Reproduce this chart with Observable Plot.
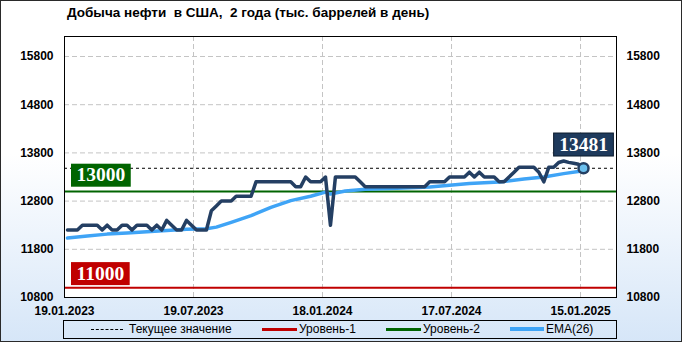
<!DOCTYPE html>
<html><head><meta charset="utf-8">
<script src="https://cdn.jsdelivr.net/npm/d3@7"></script>
<script src="https://cdn.jsdelivr.net/npm/@observablehq/plot@0.6"></script>
<style>
html,body{margin:0;padding:0;background:#fff;}
#wrap{position:relative;width:682px;height:342px;overflow:hidden;
  background:linear-gradient(to bottom,#ffffff 0%,#ffffff 45%,#d6e6f8 100%);
  font-family:"Liberation Sans",Arial,sans-serif;}
#wrap svg{position:absolute;left:0;top:0;}
#border{position:absolute;left:0;top:0;width:682px;height:342px;box-sizing:border-box;border:1px solid #2a2a2a;pointer-events:none;}
#title{position:absolute;left:67px;top:5px;font-weight:bold;font-size:13.5px;color:#000;white-space:pre;}
#legend{position:absolute;left:63px;top:320px;width:554px;height:19px;box-sizing:border-box;border:1px solid #000;}
.ls{position:absolute;top:8px;height:0;}
.lt{position:absolute;top:1px;font-size:12px;color:#000;white-space:pre;line-height:15px;}
</style></head>
<body><div id="wrap"><div id="title"></div><div id="legend"></div><div id="border"></div></div>
<script>
// ---- data ----
const title = "Добыча нефти  в США,  2 года (тыс. баррелей в день)";
const values = [
 12200,12200,12200,12300,12300,12300,12300,12200,12300,12200,
 12200,12300,12300,12200,12300,12300,12300,12200,12300,12200,
 12400,12300,12200,12200,12400,12300,12200,12200,12200,12600,
 12700,12800,12800,12800,12900,12900,12900,12900,13200,13200,
 13200,13200,13200,13200,13200,13200,13100,13100,13300,13200,
 13200,13200,13300,12300,13300,13300,13300,13300,13300,13200,
 13100,13100,13100,13100,13100,13100,13100,13100,13100,13100,
 13100,13100,13100,13200,13200,13200,13200,13300,13300,13300,
 13300,13400,13300,13400,13300,13300,13300,13200,13200,13300,
 13400,13500,13500,13500,13500,13400,13200,13500,13500,13600,
 13631,13604,13585,13563,13481];
const emaWeek = [0,4,8,12,16,20,24,28,30,33,37,41,45,49,52,53,56,60,65,73,77,81,87,92,96,100,104];
const emaVals = [12035,12075,12115,12140,12165,12190,12215,12225,12260,12360,12500,12670,12810,12900,12985,12945,13010,13045,13060,13095,13130,13165,13195,13260,13300,13370,13430];
const tickWeeks = [0,26,52,78,104];
const tickLabels = ["19.01.2023","19.07.2023","18.01.2024","17.07.2024","15.01.2025"];
const yTicks = [10800,11800,12800,13800,14800,15800];
const level1 = 11000, level2 = 13000;
const current = values[values.length-1];
const legendNames = ["Текущее значение","Уровень-1","Уровень-2","EMA(26)"];

// ---- colours / layout ----
const C = {main:"#243f63", ema:"#3fa4f6", l1:"#c00000", l2:"#006400", cur:"#000", grid:"#c4c4c4", dot:"#6cc0ee", box:"#1e3a5c"};
const OFF = 0.6;
const mainData = values.map((v,i)=>({x:i+OFF,y:v}));
const emaData = emaWeek.map((w,j)=>({x:w+OFF,y:emaVals[j]}));
const last = mainData[mainData.length-1];

document.getElementById("title").textContent = title;

const serif = "Liberation Serif, Times New Roman, serif";
const chart = Plot.plot({
  width:682, height:342,
  marginLeft:64, marginRight:66, marginTop:36, marginBottom:45,
  x:{domain:[0,111.25]},
  y:{domain:[10800,16215]},
  style:{background:"transparent", fontFamily:"Liberation Sans, Arial, sans-serif", overflow:"visible"},
  marks:[
    Plot.frame({fill:"white", stroke:null}),
    Plot.gridY(yTicks.slice(1),{stroke:C.grid, strokeOpacity:1, strokeDasharray:"5,3"}),
    Plot.gridX(tickWeeks.slice(1),{stroke:C.grid, strokeOpacity:1, strokeDasharray:"5,3"}),
    Plot.axisY(yTicks,{anchor:"left", tickSize:0, tickPadding:11, fontWeight:"bold", fontSize:12, fill:"#000", label:null, tickFormat:d=>String(d)}),
    Plot.axisY(yTicks,{anchor:"right", tickSize:0, tickPadding:10, fontWeight:"bold", fontSize:12, fill:"#000", label:null, tickFormat:d=>String(d)}),
    Plot.axisX(tickWeeks,{anchor:"bottom", tickSize:0, tickPadding:9, fontWeight:"bold", fontSize:12, fill:"#000", label:null,
      tickFormat:d=>tickLabels[tickWeeks.indexOf(d)]}),
    Plot.ruleY([level1],{stroke:C.l1, strokeWidth:2}),
    Plot.ruleY([level2],{stroke:C.l2, strokeWidth:2}),
    Plot.ruleY([current],{stroke:C.cur, strokeWidth:1, strokeDasharray:"3,3"}),
    Plot.line(emaData,{x:"x", y:"y", stroke:C.ema, strokeWidth:3.5}),
    Plot.line(mainData,{x:"x", y:"y", stroke:C.main, strokeWidth:3.5, strokeLinejoin:"round"}),
    Plot.dot([last],{x:"x", y:"y", r:5, fill:C.dot, stroke:C.main, strokeWidth:2.5}),
    Plot.frame({stroke:"#000", strokeWidth:1}),
    Plot.text([level2],{y:d=>d, frameAnchor:"left", dx:12, dy:-16.5, text:d=>String(d), textAnchor:"start",
      fill:"white", fontWeight:"bold", fontSize:19.5, fontFamily:serif}),
    Plot.text([level1],{y:d=>d, frameAnchor:"left", dx:12, dy:-14.5, text:d=>String(d), textAnchor:"start",
      fill:"white", fontWeight:"bold", fontSize:19.5, fontFamily:serif}),
    Plot.text([last],{x:"x", y:"y", dy:-24, text:d=>String(d.y), textAnchor:"middle",
      fill:"white", fontWeight:"bold", fontSize:19.5, fontFamily:serif})
  ]
});
const wrap = document.getElementById("wrap");
wrap.insertBefore(chart, document.getElementById("title"));

// label boxes behind the value labels
const boxFill = {[String(level2)]:C.l2, [String(level1)]:C.l1, [String(current)]:C.box};
d3.select(chart).selectAll("text").filter(function(){
  return this.parentNode.getAttribute("aria-label") === "text" && boxFill[this.textContent];
}).each(function(){
  const b = this.getBBox();
  const h = 23, padX = 5.5;
  const r = document.createElementNS("http://www.w3.org/2000/svg","rect");
  r.setAttribute("x", b.x - padX);
  r.setAttribute("y", b.y + b.height/2 - h/2 + 0.5);
  r.setAttribute("width", b.width + 2*padX);
  r.setAttribute("height", h);
  r.setAttribute("fill", boxFill[this.textContent]);
  if (this.textContent === String(current)) { r.setAttribute("stroke", "#0b1a2c"); r.setAttribute("stroke-width", "1"); }
  const t = this.getAttribute("transform"); if (t) r.setAttribute("transform", t);
  this.parentNode.insertBefore(r, this);
});

// legend
const legendSamples = [
  {left:27, width:32, stroke:"#000", sw:1, dash:"dashed"},
  {left:198, width:35, stroke:C.l1, sw:3, dash:"solid"},
  {left:322, width:35, stroke:C.l2, sw:3, dash:"solid"},
  {left:446, width:34, stroke:C.ema, sw:4, dash:"solid"}
];
const legendTextLeft = [65, 235, 359, 482];
const lg = document.getElementById("legend");
legendNames.forEach((n,i)=>{
  const s = legendSamples[i];
  const line = document.createElement("div");
  line.className = "ls";
  line.style.left = s.left+"px"; line.style.width = s.width+"px";
  line.style.borderTop = `${s.sw}px ${s.dash} ${s.stroke}`;
  line.style.top = (8 - Math.floor(s.sw/2))+"px";
  lg.appendChild(line);
  const t = document.createElement("div");
  t.className = "lt"; t.style.left = legendTextLeft[i]+"px"; t.textContent = n;
  lg.appendChild(t);
});
</script></body></html>
